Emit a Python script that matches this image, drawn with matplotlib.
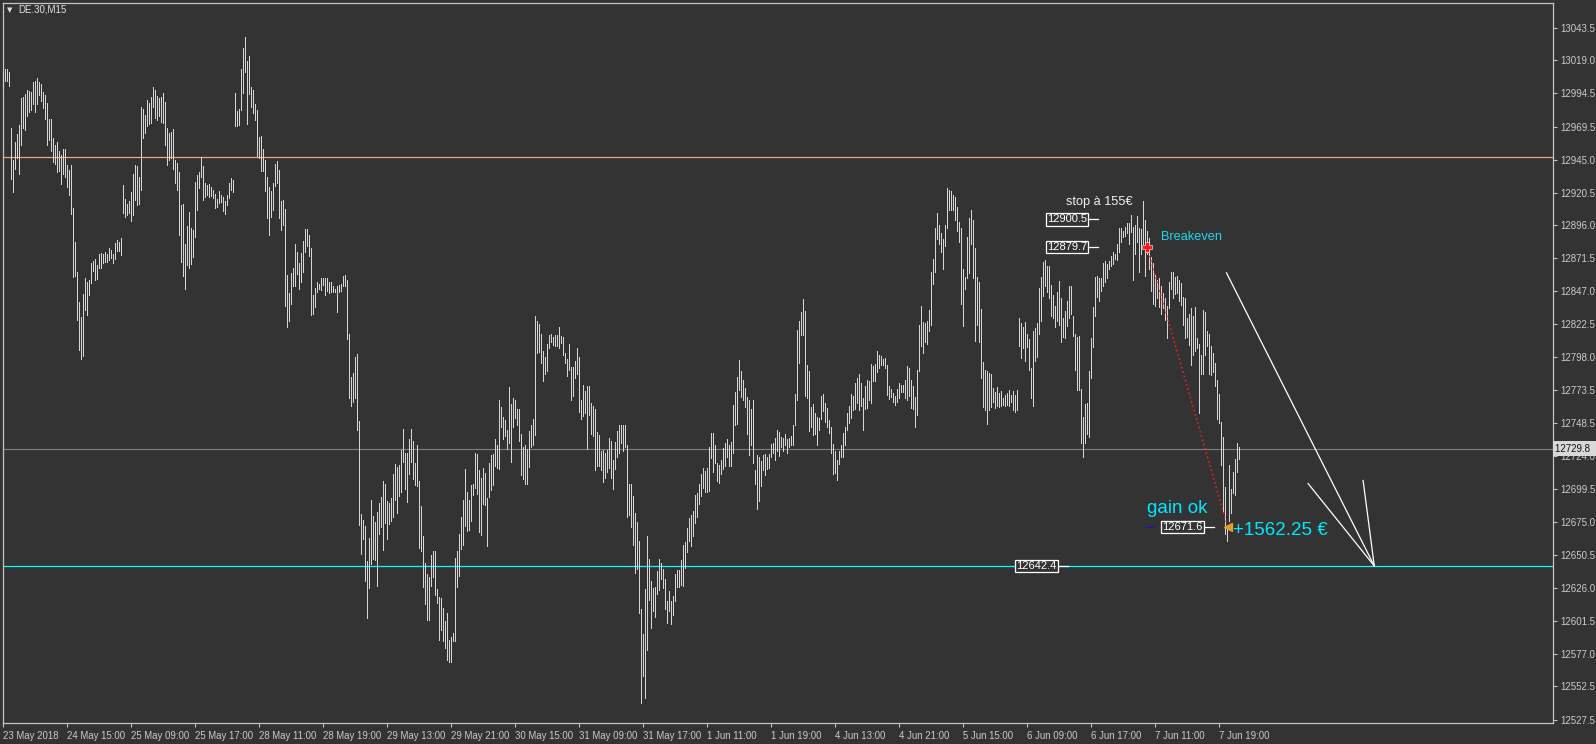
import matplotlib
matplotlib.use('Agg')
import matplotlib.pyplot as plt
import numpy as np

# ---------------- data (DE.30 M15 bars: high / low) ----------------
highs = [
    13009.8, 13012.3, 13012.3, 13010.4, 12969.0, 12944.5, 12958.2, 12964.2, 12970.9, 12990.7,
    12991.6, 12993.8, 12997.0, 12996.1, 12995.4, 13002.8, 13003.4, 13005.6, 13002.8, 13001.2,
    12995.4, 12993.2, 12987.5, 12975.4, 12975.4, 12961.0, 12955.6, 12958.2, 12951.5, 12948.3,
    12953.1, 12953.1, 12941.3, 12937.5, 12941.0, 12908.8, 12883.4, 12861.7, 12838.8, 12827.6,
    12844.8, 12856.9, 12853.7, 12855.3, 12868.1, 12869.7, 12871.3, 12866.5, 12874.4, 12875.7,
    12875.1, 12876.0, 12875.1, 12879.2, 12877.9, 12875.1, 12883.0, 12885.0, 12883.7, 12886.5,
    12926.3, 12915.5, 12912.0, 12914.2, 12920.6, 12934.3, 12941.0, 12940.3, 12931.8, 12984.3,
    12982.7, 12978.6, 12989.7, 12987.5, 12991.6, 12999.3, 12997.0, 12992.2, 12990.7, 12991.6,
    12994.8, 12988.1, 12969.0, 12965.2, 12965.8, 12967.7, 12945.1, 12942.9, 12935.9, 12911.1,
    12912.0, 12882.4, 12895.8, 12906.3, 12894.5, 12892.9, 12928.6, 12933.3, 12935.6, 12947.0,
    12940.3, 12927.9, 12926.3, 12927.0, 12924.7, 12922.2, 12919.7, 12915.8, 12921.6, 12919.0,
    12917.4, 12914.2, 12918.4, 12927.6, 12931.4, 12930.2, 12994.8, 12981.1, 12982.7, 13012.9,
    13028.2, 13036.5, 13018.4, 13022.5, 12999.3, 12997.0, 12986.8, 12982.1, 12962.3, 12963.0,
    12953.1, 12945.1, 12932.4, 12924.7, 12921.6, 12927.9, 12941.9, 12943.9, 12937.5, 12914.2,
    12915.2, 12908.5, 12859.2, 12845.8, 12860.7, 12864.3, 12882.4, 12876.0, 12868.1, 12875.4,
    12884.6, 12893.5, 12893.2, 12888.8, 12879.2, 12844.2, 12849.6, 12853.7, 12852.2, 12856.9,
    12856.9, 12856.9, 12856.9, 12853.7, 12853.7, 12850.6, 12849.0, 12850.6, 12851.5, 12852.2,
    12858.5, 12859.2, 12855.3, 12815.2, 12783.1, 12785.9, 12798.0, 12800.3, 12750.3, 12680.9,
    12676.4, 12672.3, 12645.8, 12663.3, 12691.4, 12679.6, 12674.8, 12682.4, 12689.1, 12693.6,
    12705.7, 12703.5, 12690.4, 12689.1, 12693.0, 12710.5, 12718.1, 12716.2, 12717.8, 12728.6,
    12744.5, 12726.4, 12726.4, 12736.9, 12744.5, 12735.3, 12719.4, 12732.8, 12705.7, 12687.2,
    12664.3, 12644.6, 12636.6, 12634.0, 12650.6, 12653.8, 12653.8, 12625.1, 12619.1, 12618.1,
    12610.8, 12601.3, 12607.6, 12586.9, 12589.5, 12592.7, 12648.4, 12653.2, 12665.9, 12678.6,
    12691.4, 12714.6, 12697.7, 12691.4, 12702.5, 12703.5, 12726.4, 12725.4, 12713.7, 12707.9,
    12715.2, 12711.4, 12693.0, 12719.1, 12724.8, 12725.7, 12736.9, 12732.8, 12765.6, 12760.8,
    12753.5, 12750.9, 12743.9, 12775.7, 12763.0, 12767.1, 12765.6, 12759.2, 12758.9, 12740.7,
    12731.2, 12732.8, 12729.6, 12742.9, 12747.1, 12751.9, 12828.9, 12825.1, 12822.9, 12815.5,
    12802.8, 12798.0, 12807.6, 12814.6, 12815.5, 12813.0, 12814.6, 12814.6, 12820.3, 12813.9,
    12813.0, 12801.2, 12796.4, 12807.6, 12790.7, 12790.7, 12794.8, 12805.0, 12798.0, 12765.6,
    12777.3, 12772.6, 12776.7, 12776.7, 12763.6, 12761.4, 12759.2, 12742.3, 12739.8, 12728.0,
    12728.6, 12726.4, 12728.9, 12737.5, 12735.3, 12721.6, 12734.4, 12742.9, 12747.1, 12747.1,
    12747.1, 12747.1, 12732.8, 12703.5, 12703.5, 12694.6, 12681.8, 12675.4, 12661.1, 12610.2,
    12591.7, 12625.1, 12664.9, 12647.7, 12630.9, 12626.1, 12626.7, 12638.8, 12647.7, 12644.6,
    12639.8, 12632.5, 12615.9, 12623.9, 12615.9, 12619.7, 12636.6, 12639.5, 12639.5, 12646.8,
    12657.9, 12660.5, 12670.7, 12677.7, 12680.2, 12683.4, 12695.2, 12696.8, 12703.5, 12710.5,
    12715.2, 12713.0, 12715.2, 12731.2, 12741.7, 12741.7, 12732.8, 12719.4, 12717.5, 12721.6,
    12730.2, 12733.7, 12736.6, 12732.8, 12734.4, 12762.0, 12771.6, 12783.1, 12795.8, 12787.8,
    12780.5, 12774.8, 12768.4, 12765.9, 12758.9, 12766.2, 12713.6, 12724.8, 12723.8, 12720.7,
    12724.8, 12725.4, 12723.2, 12725.4, 12733.4, 12733.7, 12737.5, 12743.3, 12742.3, 12738.2,
    12737.5, 12740.7, 12736.6, 12737.5, 12739.1, 12747.1, 12770.3, 12817.8, 12825.1, 12831.5,
    12841.0, 12832.1, 12792.3, 12787.8, 12760.8, 12763.0, 12756.6, 12753.5, 12752.8, 12768.7,
    12770.3, 12763.6, 12759.8, 12750.9, 12745.5, 12733.4, 12728.0, 12721.0, 12728.0, 12732.1,
    12741.7, 12746.1, 12756.6, 12761.4, 12770.3, 12768.7, 12778.9, 12782.1, 12785.3, 12778.9,
    12767.8, 12776.4, 12781.2, 12779.9, 12792.6, 12791.0, 12792.6, 12802.2, 12799.6, 12799.0,
    12796.4, 12797.4, 12791.7, 12776.4, 12774.1, 12771.0, 12768.7, 12774.1, 12778.9, 12777.3,
    12777.3, 12780.5, 12791.0, 12790.1, 12781.2, 12776.7, 12768.4, 12788.5, 12821.9, 12836.2,
    12824.1, 12823.5, 12825.1, 12833.0, 12861.7, 12871.3, 12894.2, 12905.6, 12896.7, 12890.4,
    12886.2, 12896.7, 12923.8, 12922.8, 12921.6, 12919.0, 12917.4, 12910.1, 12898.3, 12894.2,
    12863.3, 12857.6, 12887.2, 12901.5, 12907.9, 12899.9, 12879.2, 12857.6, 12853.7, 12834.0,
    12794.2, 12788.5, 12787.8, 12785.9, 12785.3, 12774.8, 12771.6, 12775.7, 12771.0, 12772.6,
    12767.1, 12770.0, 12771.0, 12773.2, 12769.4, 12772.6, 12770.0, 12773.5, 12827.3, 12823.5,
    12820.3, 12824.1, 12814.9, 12811.4, 12790.1, 12817.1, 12819.4, 12823.5, 12849.6, 12857.9,
    12868.7, 12870.6, 12865.8, 12865.5, 12851.5, 12844.2, 12836.2, 12846.7, 12854.7, 12841.6,
    12826.7, 12832.4, 12839.4, 12850.6, 12850.6, 12828.9, 12815.5, 12813.0, 12813.9, 12774.1,
    12753.5, 12763.0, 12763.6, 12787.8, 12812.4, 12835.3, 12857.6, 12858.5, 12856.9, 12856.9,
    12868.1, 12869.7, 12867.1, 12869.7, 12873.5, 12876.0, 12874.4, 12882.4, 12894.2, 12894.5,
    12892.0, 12895.1, 12897.7, 12897.7, 12904.1, 12895.1, 12896.1, 12903.1, 12894.2, 12893.5,
    12914.2, 12899.9, 12892.0, 12886.5, 12872.8, 12868.1, 12859.2, 12855.3, 12856.9, 12850.6,
    12845.8, 12841.6, 12836.2, 12853.7, 12861.7, 12861.7, 12857.6, 12858.5, 12855.3, 12852.8,
    12842.6, 12841.6, 12826.7, 12829.9, 12834.6, 12828.3, 12835.3, 12812.4, 12807.6, 12799.6,
    12833.0, 12831.5, 12817.1, 12815.5, 12806.0, 12801.2, 12793.2, 12780.5, 12770.3, 12749.3,
    12738.5, 12700.9, 12672.3, 12717.5, 12700.0, 12712.0, 12722.0, 12734.0, 12731.0,
]
lows = [
    12998.6, 13004.0, 13003.4, 12999.6, 12930.8, 12920.6, 12938.1, 12946.1, 12934.6, 12956.3,
    12968.4, 12967.4, 12977.9, 12980.2, 12981.7, 12986.5, 12980.5, 12986.8, 12993.2, 12988.7,
    12983.3, 12975.4, 12956.3, 12959.8, 12951.5, 12943.5, 12941.9, 12935.9, 12936.5, 12927.0,
    12934.3, 12932.4, 12924.4, 12919.0, 12904.7, 12857.6, 12858.5, 12825.7, 12803.4, 12796.4,
    12799.0, 12833.0, 12829.5, 12844.2, 12852.8, 12862.3, 12855.3, 12856.0, 12864.3, 12864.3,
    12868.1, 12868.7, 12868.7, 12870.0, 12871.9, 12868.1, 12871.3, 12877.0, 12877.0, 12873.8,
    12905.6, 12902.5, 12904.1, 12905.3, 12899.6, 12904.1, 12915.2, 12911.4, 12911.7, 12922.8,
    12961.4, 12965.2, 12970.0, 12971.6, 12972.2, 12984.3, 12976.3, 12974.7, 12977.9, 12973.1,
    12972.2, 12956.3, 12941.3, 12944.5, 12946.1, 12938.1, 12927.9, 12922.8, 12888.8, 12868.7,
    12858.5, 12849.0, 12866.5, 12864.3, 12867.1, 12872.8, 12887.2, 12907.9, 12923.8, 12932.4,
    12915.2, 12917.4, 12919.0, 12917.4, 12918.1, 12916.5, 12908.8, 12909.5, 12912.7, 12913.3,
    12906.9, 12904.7, 12911.1, 12916.8, 12922.2, 12921.2, 12970.0, 12970.0, 12970.9, 12981.7,
    12994.8, 13010.4, 12971.6, 12993.8, 12984.3, 12979.5, 12974.7, 12947.7, 12946.1, 12936.5,
    12936.5, 12921.9, 12901.5, 12888.8, 12902.5, 12907.9, 12925.4, 12927.9, 12901.5, 12892.6,
    12896.7, 12836.2, 12820.3, 12825.1, 12837.2, 12851.2, 12851.2, 12860.1, 12849.0, 12853.7,
    12861.7, 12876.0, 12880.8, 12873.5, 12829.5, 12829.9, 12835.6, 12846.7, 12849.0, 12848.3,
    12851.5, 12844.2, 12847.4, 12845.8, 12846.7, 12846.4, 12846.4, 12831.5, 12846.7, 12847.4,
    12850.6, 12851.2, 12811.7, 12767.1, 12761.4, 12764.6, 12767.1, 12743.3, 12673.2, 12650.9,
    12662.7, 12630.9, 12603.8, 12626.1, 12643.6, 12647.7, 12646.8, 12627.7, 12665.9, 12671.6,
    12654.1, 12674.5, 12662.7, 12673.9, 12675.5, 12678.6, 12691.4, 12681.8, 12694.6, 12697.7,
    12720.0, 12700.0, 12689.8, 12710.5, 12720.0, 12707.3, 12702.5, 12701.9, 12655.4, 12653.2,
    12626.7, 12614.3, 12602.2, 12602.2, 12627.7, 12634.0, 12620.7, 12614.9, 12587.2, 12594.3,
    12586.3, 12580.9, 12572.0, 12570.4, 12571.0, 12586.3, 12586.3, 12626.7, 12635.0, 12654.7,
    12657.9, 12672.3, 12668.1, 12669.1, 12675.5, 12695.2, 12700.3, 12696.1, 12667.5, 12665.3,
    12688.2, 12687.5, 12657.0, 12693.9, 12698.7, 12702.5, 12716.8, 12715.2, 12714.3, 12745.5,
    12736.9, 12739.1, 12729.6, 12734.3, 12720.0, 12745.5, 12752.8, 12747.1, 12735.3, 12709.8,
    12707.3, 12703.1, 12703.1, 12716.2, 12731.2, 12732.8, 12739.8, 12801.2, 12801.8, 12793.2,
    12779.9, 12785.3, 12787.5, 12804.4, 12809.2, 12806.6, 12805.9, 12805.9, 12804.4, 12808.2,
    12799.6, 12793.2, 12783.7, 12788.5, 12766.2, 12768.7, 12782.1, 12785.3, 12757.3, 12751.9,
    12754.1, 12756.6, 12729.6, 12755.0, 12740.7, 12739.1, 12713.6, 12716.8, 12716.8, 12713.6,
    12704.7, 12708.2, 12712.1, 12715.2, 12707.9, 12699.3, 12714.3, 12723.2, 12726.4, 12734.3,
    12728.0, 12731.2, 12678.6, 12680.2, 12671.3, 12657.9, 12637.2, 12639.8, 12607.0, 12540.1,
    12560.2, 12544.3, 12579.9, 12617.2, 12595.8, 12608.6, 12604.4, 12621.3, 12624.5, 12632.5,
    12626.1, 12610.2, 12600.0, 12608.6, 12599.0, 12605.4, 12616.5, 12627.0, 12627.0, 12628.3,
    12627.7, 12641.1, 12652.5, 12661.1, 12657.3, 12664.9, 12674.5, 12678.6, 12688.2, 12694.6,
    12700.3, 12697.7, 12697.1, 12698.4, 12722.6, 12712.1, 12719.4, 12705.7, 12704.1, 12710.5,
    12714.3, 12716.8, 12723.8, 12716.8, 12716.8, 12726.4, 12747.1, 12748.0, 12773.5, 12768.4,
    12766.2, 12760.8, 12740.7, 12724.8, 12732.8, 12719.4, 12703.5, 12684.4, 12690.7, 12701.6,
    12713.6, 12709.8, 12714.3, 12715.2, 12723.2, 12726.4, 12721.6, 12728.0, 12724.2, 12731.2,
    12728.0, 12732.8, 12726.4, 12731.2, 12732.1, 12732.8, 12747.1, 12765.6, 12793.2, 12814.6,
    12814.6, 12768.7, 12767.8, 12742.9, 12745.5, 12739.8, 12740.7, 12732.8, 12743.9, 12751.9,
    12757.6, 12749.6, 12745.5, 12741.7, 12726.4, 12711.1, 12711.4, 12706.3, 12718.4, 12723.2,
    12723.8, 12732.8, 12743.3, 12748.7, 12752.5, 12758.2, 12759.2, 12763.6, 12758.2, 12761.4,
    12743.9, 12758.9, 12759.8, 12766.2, 12763.6, 12779.9, 12779.9, 12786.9, 12790.1, 12791.7,
    12791.7, 12790.1, 12770.0, 12766.8, 12768.4, 12764.6, 12762.4, 12764.6, 12767.8, 12771.9,
    12771.9, 12767.1, 12766.2, 12768.7, 12759.8, 12758.9, 12745.5, 12755.0, 12787.8, 12806.0,
    12801.2, 12809.2, 12807.6, 12817.1, 12821.9, 12852.2, 12861.7, 12885.6, 12882.4, 12876.0,
    12863.9, 12880.8, 12894.2, 12907.9, 12907.9, 12907.9, 12899.9, 12892.0, 12883.4, 12837.8,
    12821.0, 12849.0, 12856.9, 12860.7, 12882.4, 12856.9, 12810.1, 12821.9, 12809.2, 12782.1,
    12760.8, 12758.2, 12748.0, 12758.2, 12760.5, 12764.6, 12760.1, 12761.4, 12760.8, 12761.4,
    12762.0, 12761.4, 12762.0, 12761.4, 12764.6, 12758.2, 12757.3, 12758.2, 12806.0, 12797.1,
    12804.4, 12794.8, 12805.4, 12788.5, 12767.1, 12761.4, 12794.8, 12798.0, 12815.5, 12824.5,
    12843.6, 12850.6, 12846.7, 12842.0, 12828.9, 12826.7, 12820.3, 12825.1, 12821.9, 12809.2,
    12813.0, 12812.4, 12821.0, 12826.7, 12829.9, 12813.9, 12788.5, 12773.5, 12773.2, 12734.3,
    12723.2, 12734.3, 12740.7, 12738.5, 12782.1, 12805.4, 12828.3, 12842.6, 12839.4, 12847.4,
    12851.2, 12853.7, 12856.9, 12863.3, 12865.5, 12867.1, 12871.3, 12870.6, 12876.0, 12884.0,
    12887.2, 12888.1, 12890.4, 12882.4, 12891.3, 12855.3, 12874.4, 12884.0, 12861.7, 12875.1,
    12882.4, 12858.5, 12874.4, 12863.3, 12847.4, 12837.8, 12836.2, 12842.0, 12835.3, 12829.9,
    12834.6, 12825.7, 12812.4, 12834.6, 12849.0, 12841.6, 12844.8, 12845.8, 12839.4, 12836.9,
    12821.9, 12812.4, 12813.0, 12806.6, 12791.7, 12799.6, 12802.8, 12804.4, 12756.6, 12785.3,
    12785.3, 12799.6, 12806.0, 12785.3, 12784.3, 12786.9, 12776.7, 12751.9, 12748.7, 12717.5,
    12683.4, 12665.9, 12661.1, 12675.5, 12682.0, 12697.0, 12695.0, 12712.0, 12722.0,
]

date_labels = ['23 May 2018', '24 May 15:00', '25 May 09:00', '25 May 17:00', '28 May 11:00',
               '28 May 19:00', '29 May 13:00', '29 May 21:00', '30 May 15:00', '31 May 09:00',
               '31 May 17:00', '1 Jun 11:00', '1 Jun 19:00', '4 Jun 13:00', '4 Jun 21:00',
               '5 Jun 15:00', '6 Jun 09:00', '6 Jun 17:00', '7 Jun 11:00', '7 Jun 19:00']
bars_per_label = 32

price_ticks = [13043.5, 13019.0, 12994.5, 12969.5, 12945.0, 12920.5, 12896.0, 12871.5,
               12847.0, 12822.5, 12798.0, 12773.5, 12748.5, 12724.0, 12699.5, 12675.0,
               12650.5, 12626.0, 12601.5, 12577.0, 12552.5, 12527.5]

orange_level = 12947.0
bid_price = 12729.8
cyan_level = 12642.4
stop_level = 12900.5
entry_price = 12879.7
exit_price = 12671.6
entry_bar = 571.9
exit_bar = 612.1
profit_text = '+1562.25 €'

# white hand-drawn fan lines: (bar, price) start points converging on one end point
fan_end = (685.5, 12642.3)
fan_starts = [(611.6, 12860.7), (652.4, 12703.7), (679.9, 12706.0)]

# ---------------- styling ----------------
BG = '#333333'
BAR = '#d6d6d6'
FRAME = '#c4c4c4'
TXT = '#c8ccd0'
CYAN = '#00e8ff'
FONT = 'Liberation Sans'

W, H = 1596, 744
fig = plt.figure(figsize=(W / 100, H / 100), dpi=100, facecolor=BG)
left_px, right_px, top_px, bottom_px = 2.7, 1553.0, 2.7, 723.0
ax = fig.add_axes([left_px / W, 1 - bottom_px / H,
                   (right_px - left_px) / W, (bottom_px - top_px) / H])
ax.set_facecolor(BG)
ax.set_xlim(-0.3, 774.85)
ax.set_ylim(12525.3, 13062.0)

n = min(len(highs), len(lows))
idx = np.arange(n)
ax.vlines(idx, np.array(lows[:n]), np.array(highs[:n]), colors=BAR,
          linewidth=0.72, antialiased=False, zorder=3)

# horizontal levels
ax.axhline(orange_level, color='#eea777', lw=0.9, zorder=2)
ax.axhline(bid_price, color='#808080', lw=0.8, zorder=2)
ax.axhline(cyan_level, color='#00ffff', lw=0.9, zorder=2)

# spines / ticks
for s in ax.spines.values():
    s.set_color(FRAME)
    s.set_linewidth(0.9)
ax.yaxis.tick_right()
ax.set_yticks(price_ticks)
ax.set_yticklabels([f'{v:.1f}' for v in price_ticks], fontsize=7, color=TXT, family=FONT)
ax.tick_params(axis='y', length=3, width=0.8, color=FRAME, pad=2.5, direction='out')
xt = np.arange(len(date_labels)) * bars_per_label
ax.set_xticks(xt)
ax.set_xticklabels(date_labels, fontsize=6.9, color=TXT, family=FONT, ha='left')
ax.tick_params(axis='x', length=3, width=0.8, color=FRAME, pad=3, direction='out')

# current price label on axis
ax.text(1.0015, bid_price, f'{bid_price:.1f} ', transform=ax.get_yaxis_transform(),
        ha='left', va='center', fontsize=7, family=FONT, color='#111111',
        bbox=dict(boxstyle='square,pad=0.25', fc='#d9d9d9', ec='none'), zorder=10, clip_on=False)

# symbol label
fig.text(7 / W, 1 - 10 / H, '▼', fontsize=5, color='#e0e0e0', va='center', family='DejaVu Sans')
fig.text(18 / W, 1 - 10 / H, 'DE.30,M15', fontsize=7, color='#e0e4e8', va='center', family=FONT)

# ---------------- trade annotations ----------------
def price_box(xc, price, text):
    ax.text(xc, price, text, ha='center', va='center', fontsize=8, color='white', family=FONT,
            bbox=dict(boxstyle='square,pad=0.1', fc=BG, ec='white', lw=0.9), zorder=8)

price_box(531.7, stop_level, f'{stop_level:.1f}')
ax.plot([542.2, 547.2], [stop_level, stop_level], color='white', lw=0.9, zorder=7)
price_box(531.7, entry_price, f'{entry_price:.1f}')
ax.plot([542.2, 547.2], [entry_price, entry_price], color='white', lw=0.9, zorder=7)
ax.text(547.9, 12913.8, 'stop à 155€', ha='center', va='center', fontsize=9.2,
        color='#f0f0f0', family=FONT, zorder=8)
ax.text(578.9, 12887.4, 'Breakeven', ha='left', va='center', fontsize=9.2,
        color='#22d8ee', family=FONT, zorder=8)

# trade line
ax.plot([entry_bar, exit_bar], [entry_price, exit_price], color='#ff2020', lw=1.0,
        linestyle=(0, (1.2, 2.0)), zorder=6)
ax.plot([entry_bar], [entry_price], marker='P', color='#ff1a1a', markersize=6.5,
        markeredgecolor='white', markeredgewidth=0.4, zorder=9)
ax.plot([exit_bar], [exit_price], marker='<', color='#e0a030', markersize=5.5, zorder=9)

price_box(589.5, exit_price, f'{exit_price:.1f}')
ax.plot([600.0, 605.4], [exit_price, exit_price], color='white', lw=0.9, zorder=7)
ax.plot([571.4, 574.9], [exit_price, exit_price], color='#1010d0', lw=0.9, zorder=7)
ax.text(571.7, 12684.8, 'gain ok', ha='left', va='center', fontsize=13.5,
        color=CYAN, family=FONT, zorder=8)
ax.text(614.7, 12668.6, profit_text, ha='left', va='center', fontsize=13.5,
        color=CYAN, family=FONT, zorder=8)

price_box(516.6, cyan_level, f'{cyan_level:.1f}')
ax.plot([527.2, 532.2], [cyan_level, cyan_level], color='white', lw=0.9, zorder=7)

for sx, sy in fan_starts:
    ax.plot([sx, fan_end[0]], [sy, fan_end[1]], color='white', lw=0.9, zorder=5)

fig.savefig('out.png', dpi=100, facecolor=BG)
